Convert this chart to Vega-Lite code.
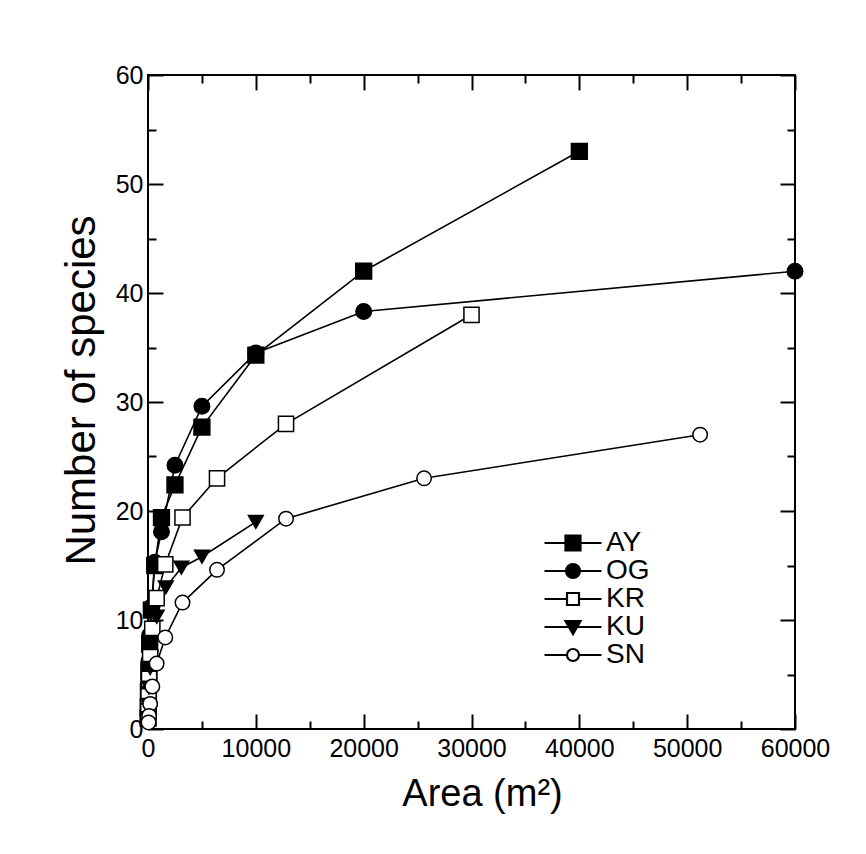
{
  "$schema": "https://vega.github.io/schema/vega-lite/v6.json",
  "autosize": "none",
  "width": 647,
  "height": 654,
  "padding": {"left": 148, "top": 75, "right": 71, "bottom": 125},
  "background": "white",
  "config": {
    "font": "Liberation Sans",
    "view": {"stroke": "black", "strokeWidth": 2},
    "axis": {"grid": false, "domain": false, "tickColor": "black", "tickWidth": 2, "labelColor": "black", "titleColor": "black", "titleFontWeight": "normal", "labelFlush": false}
  },
  "data": {
    "values": [
      {"series": "AY", "area": 40000, "species": 53},
      {"series": "AY", "area": 20000, "species": 42},
      {"series": "AY", "area": 10000, "species": 34.3},
      {"series": "AY", "area": 5000, "species": 27.7},
      {"series": "AY", "area": 2500, "species": 22.4},
      {"series": "AY", "area": 1250, "species": 19.4},
      {"series": "AY", "area": 625, "species": 15.0},
      {"series": "AY", "area": 312, "species": 10.9},
      {"series": "AY", "area": 156, "species": 7.8},
      {"series": "AY", "area": 78, "species": 5.3},
      {"series": "AY", "area": 39, "species": 3.4},
      {"series": "AY", "area": 20, "species": 2.0},
      {"series": "AY", "area": 10, "species": 1.0},
      {"series": "OG", "area": 60000, "species": 42},
      {"series": "OG", "area": 20000, "species": 38.3},
      {"series": "OG", "area": 10000, "species": 34.5},
      {"series": "OG", "area": 5000, "species": 29.6},
      {"series": "OG", "area": 2500, "species": 24.2},
      {"series": "OG", "area": 1250, "species": 18.1},
      {"series": "OG", "area": 625, "species": 15.3},
      {"series": "OG", "area": 312, "species": 11.2},
      {"series": "OG", "area": 156, "species": 8.6},
      {"series": "OG", "area": 78, "species": 6.2},
      {"series": "OG", "area": 39, "species": 4.2},
      {"series": "OG", "area": 20, "species": 2.6},
      {"series": "OG", "area": 10, "species": 1.2},
      {"series": "KR", "area": 30000, "species": 38},
      {"series": "KR", "area": 12800, "species": 28},
      {"series": "KR", "area": 6400, "species": 23},
      {"series": "KR", "area": 3200, "species": 19.4},
      {"series": "KR", "area": 1600, "species": 15.1},
      {"series": "KR", "area": 800, "species": 12.0},
      {"series": "KR", "area": 400, "species": 9.2},
      {"series": "KR", "area": 200, "species": 6.6},
      {"series": "KR", "area": 100, "species": 4.6},
      {"series": "KR", "area": 50, "species": 3.0},
      {"series": "KR", "area": 25, "species": 1.6},
      {"series": "KU", "area": 10000, "species": 19},
      {"series": "KU", "area": 5000, "species": 15.8},
      {"series": "KU", "area": 3100, "species": 14.8},
      {"series": "KU", "area": 1650, "species": 13.0},
      {"series": "KU", "area": 800, "species": 10.3},
      {"series": "KU", "area": 400, "species": 8.0},
      {"series": "KU", "area": 200, "species": 5.6},
      {"series": "KU", "area": 100, "species": 3.8},
      {"series": "KU", "area": 50, "species": 2.2},
      {"series": "KU", "area": 25, "species": 1.0},
      {"series": "SN", "area": 51200, "species": 27},
      {"series": "SN", "area": 25600, "species": 23},
      {"series": "SN", "area": 12800, "species": 19.3},
      {"series": "SN", "area": 6400, "species": 14.6},
      {"series": "SN", "area": 3200, "species": 11.6},
      {"series": "SN", "area": 1600, "species": 8.4},
      {"series": "SN", "area": 800, "species": 6.0},
      {"series": "SN", "area": 400, "species": 3.9},
      {"series": "SN", "area": 200, "species": 2.3},
      {"series": "SN", "area": 100, "species": 1.2},
      {"series": "SN", "area": 50, "species": 0.6}
    ]
  },
  "encoding": {
    "x": {"field": "area", "type": "quantitative", "scale": {"domain": [0, 60000], "nice": false}},
    "y": {"field": "species", "type": "quantitative", "scale": {"domain": [0, 60], "nice": false}}
  },
  "layer": [
    {
      "mark": {"type": "line", "color": "black", "strokeWidth": 1.6},
      "encoding": {
        "detail": {"field": "series", "type": "nominal"},
        "x": {"field": "area", "type": "quantitative", "axis": {"orient": "bottom", "ticks": false, "values": [0, 10000, 20000, 30000, 40000, 50000, 60000], "format": "d", "labelPadding": 7, "labelFontSize": 25, "title": "Area (m²)", "titleFontSize": 38, "titleBaseline": "alphabetic", "titleY": 76, "titleX": 334}},
        "y": {"field": "species", "type": "quantitative", "axis": {"orient": "left", "ticks": false, "values": [0, 10, 20, 30, 40, 50, 60], "labelPadding": 5, "labelFontSize": 25, "title": "Number of species", "titleFontSize": 42, "titlePadding": 12, "titleY": 315}}
      }
    },
    {
      "mark": {"type": "point", "filled": true, "stroke": "black", "strokeWidth": 1.5, "opacity": 1},
      "encoding": {
        "x": {"field": "area", "type": "quantitative", "axis": {"orient": "bottom", "labels": false, "title": null, "values": [0, 10000, 20000, 30000, 40000, 50000, 60000], "tickSize": -15}},
        "y": {"field": "species", "type": "quantitative", "axis": {"orient": "left", "labels": false, "title": null, "values": [0, 10, 20, 30, 40, 50, 60], "tickSize": -15}},
        "fill": {"field": "series", "type": "nominal", "scale": {"domain": ["AY", "OG", "KR", "KU", "SN"], "range": ["black", "black", "white", "black", "white"]}, "legend": null},
        "shape": {"field": "series", "type": "nominal", "scale": {"domain": ["AY", "OG", "KR", "KU", "SN"], "range": ["square", "circle", "square", "triangle-down", "circle"]}, "legend": null},
        "size": {"field": "series", "type": "nominal", "scale": {"domain": ["AY", "OG", "KR", "KU", "SN"], "range": [250, 210, 235, 260, 210]}, "legend": null}
      }
    },
    {
      "mark": {"type": "point", "filled": true, "opacity": 0, "strokeWidth": 2, "size": 400},
      "encoding": {
        "x": {"field": "area", "type": "quantitative", "axis": {"orient": "bottom", "labels": false, "title": null, "values": [5000, 15000, 25000, 35000, 45000, 55000], "tickSize": -8}},
        "y": {"field": "species", "type": "quantitative", "axis": {"orient": "left", "labels": false, "title": null, "values": [5, 15, 25, 35, 45, 55], "tickSize": -8}},
        "fill": {"field": "series", "type": "nominal", "scale": {"domain": ["AY", "OG", "KR", "KU", "SN"], "range": ["black", "black", "white", "black", "white"]}},
        "stroke": {"field": "series", "type": "nominal", "scale": {"domain": ["AY", "OG", "KR", "KU", "SN"], "range": ["black", "black", "black", "black", "black"]}},
        "strokeWidth": {"field": "series", "type": "ordinal", "scale": {"domain": ["AY", "OG", "KR", "KU", "SN"], "range": [2.2, 2.2, 2.2, 2.2, 2.2]}},
        "shape": {
          "field": "series", "type": "nominal",
          "scale": {"domain": ["AY", "OG", "KR", "KU", "SN"], "range": [
            "M-2.85,0H2.85M-0.75,-0.75H0.75V0.75H-0.75Z",
            "M-2.85,0H2.85M-0.7,0A0.7,0.7,0,1,0,0.7,0A0.7,0.7,0,1,0,-0.7,0Z",
            "M-2.85,0H-0.6M0.6,0H2.85M-0.6,-0.6H0.6V0.6H-0.6Z",
            "M-2.85,0H2.85M-0.75,-0.6H0.75L0,0.7Z",
            "M-2.85,0H-0.6M0.6,0H2.85M-0.6,0A0.6,0.6,0,1,0,0.6,0A0.6,0.6,0,1,0,-0.6,0Z"
          ]},
          "legend": {
            "orient": "none", "legendX": 411, "legendY": 454, "title": null,
            "labelFontSize": 28, "labelFont": "Liberation Sans", "labelColor": "black",
            "symbolSize": 400, "symbolStrokeWidth": 2.2, "symbolOpacity": 1,
            "labelOffset": 19, "symbolOffset": 0, "rowPadding": 0, "padding": 0
          }
        }
      }
    },
    {
      "mark": {"type": "point", "opacity": 0},
      "encoding": {
        "x": {"field": "area", "type": "quantitative", "axis": {"orient": "top", "labels": false, "title": null, "values": [0, 10000, 20000, 30000, 40000, 50000, 60000], "tickSize": -15}},
        "y": {"field": "species", "type": "quantitative", "axis": {"orient": "right", "labels": false, "title": null, "values": [0, 10, 20, 30, 40, 50, 60], "tickSize": -15}}
      }
    },
    {
      "mark": {"type": "point", "opacity": 0},
      "encoding": {
        "x": {"field": "area", "type": "quantitative", "axis": {"orient": "top", "labels": false, "title": null, "values": [5000, 15000, 25000, 35000, 45000, 55000], "tickSize": -8}},
        "y": {"field": "species", "type": "quantitative", "axis": {"orient": "right", "labels": false, "title": null, "values": [5, 15, 25, 35, 45, 55], "tickSize": -8}}
      }
    }
  ],
  "resolve": {"axis": {"x": "independent", "y": "independent"}, "scale": {"shape": "independent", "fill": "independent", "stroke": "independent", "strokeWidth": "independent"}}
}
